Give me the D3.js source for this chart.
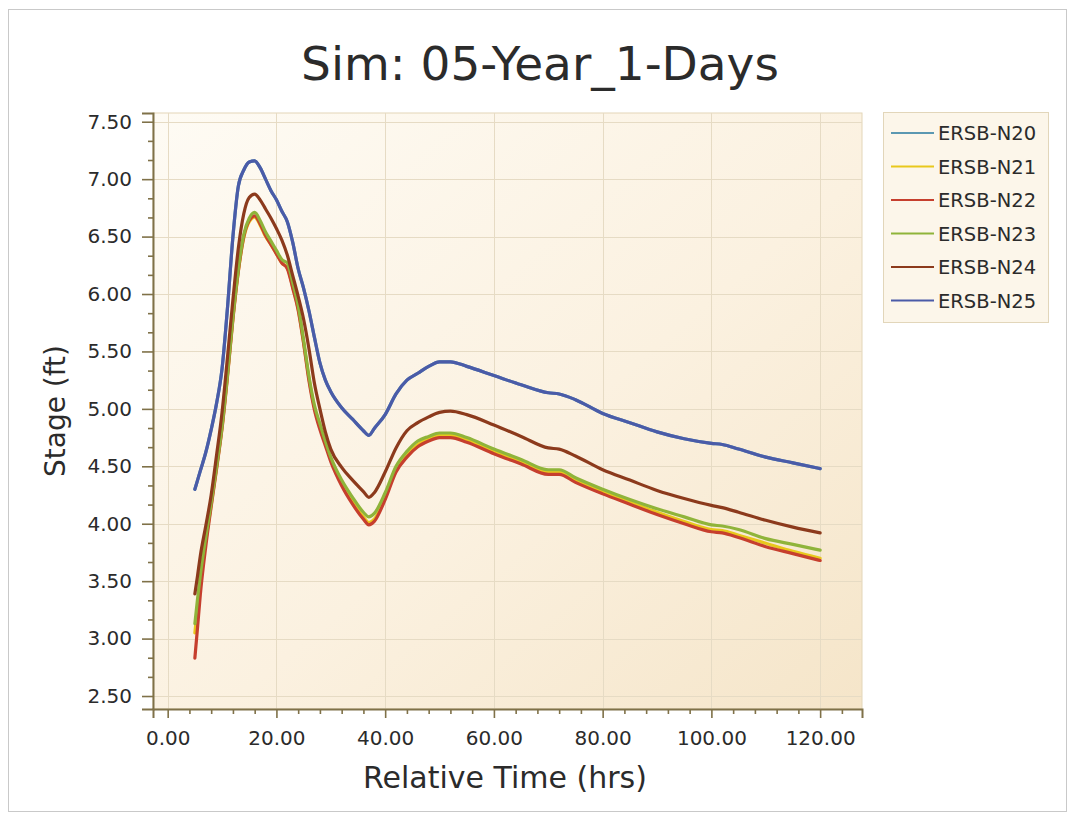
<!DOCTYPE html>
<html>
<head>
<meta charset="utf-8">
<script src="https://cdn.jsdelivr.net/npm/d3@7"></script>
<style>
  html, body { margin: 0; padding: 0; background: #ffffff; }
  svg { display: block; }
  text { font-family: "DejaVu Sans", Verdana, sans-serif; fill: #2b2b2b; }
</style>
</head>
<body>
<svg id="chart" width="1073" height="816"></svg>
<script>
// ---------------- DATA ----------------
const titleText = "Sim: 05-Year_1-Days";
const xLabel = "Relative Time (hrs)";
const yLabel = "Stage (ft)";

const hours = [5, 5.5, 6, 7, 8, 9, 10, 11, 12, 13, 14, 15, 16, 17, 18, 19, 20, 21, 22, 23, 24, 25, 26, 27, 28, 29, 30, 32, 34, 36, 37, 38, 40, 42, 44, 46, 48, 50, 52, 55, 60, 65, 70, 72, 75, 80, 85, 90, 95, 100, 102, 105, 110, 115, 120];

const seriesNames = ["ERSB-N20", "ERSB-N21", "ERSB-N22", "ERSB-N23", "ERSB-N24", "ERSB-N25"];
const seriesColors = ["#5b98b2", "#e8c81c", "#c63f2e", "#8fb43a", "#8c3a1c", "#4a5ba8"];

const n25 = [4.30, 4.38, 4.46, 4.62, 4.82, 5.05, 5.35, 5.88, 6.50, 6.94, 7.08, 7.15, 7.16, 7.10, 7.00, 6.90, 6.82, 6.72, 6.63, 6.45, 6.22, 6.05, 5.85, 5.62, 5.40, 5.25, 5.15, 5.01, 4.91, 4.81, 4.77, 4.83, 4.95, 5.13, 5.25, 5.31, 5.37, 5.41, 5.41, 5.37, 5.29, 5.21, 5.14, 5.13, 5.08, 4.96, 4.88, 4.80, 4.74, 4.70, 4.69, 4.65, 4.58, 4.53, 4.48];
const n20 = [4.30, 4.38, 4.46, 4.62, 4.82, 5.05, 5.35, 5.88, 6.50, 6.94, 7.08, 7.15, 7.16, 7.10, 7.00, 6.90, 6.82, 6.72, 6.63, 6.45, 6.22, 6.05, 5.85, 5.62, 5.40, 5.25, 5.15, 5.01, 4.91, 4.81, 4.77, 4.83, 4.95, 5.13, 5.25, 5.31, 5.37, 5.41, 5.41, 5.37, 5.29, 5.21, 5.14, 5.13, 5.08, 4.96, 4.88, 4.80, 4.74, 4.70, 4.69, 4.65, 4.58, 4.53, 4.48];
const n24 = [3.39, 3.55, 3.72, 3.98, 4.25, 4.60, 4.97, 5.45, 5.95, 6.40, 6.70, 6.84, 6.87, 6.82, 6.74, 6.66, 6.57, 6.47, 6.34, 6.16, 5.98, 5.78, 5.52, 5.22, 5.00, 4.80, 4.65, 4.49, 4.38, 4.28, 4.23, 4.27, 4.45, 4.66, 4.81, 4.88, 4.93, 4.97, 4.98, 4.95, 4.86, 4.76, 4.66, 4.65, 4.59, 4.47, 4.38, 4.29, 4.22, 4.16, 4.14, 4.10, 4.03, 3.97, 3.92];
const n23 = [3.13, 3.35, 3.55, 3.88, 4.18, 4.50, 4.85, 5.30, 5.80, 6.22, 6.52, 6.66, 6.71, 6.64, 6.54, 6.46, 6.38, 6.30, 6.27, 6.10, 5.90, 5.60, 5.28, 5.03, 4.87, 4.72, 4.58, 4.38, 4.23, 4.10, 4.06, 4.09, 4.27, 4.50, 4.63, 4.72, 4.76, 4.79, 4.79, 4.75, 4.65, 4.56, 4.47, 4.47, 4.40, 4.30, 4.21, 4.13, 4.06, 3.99, 3.98, 3.95, 3.87, 3.82, 3.77];
const n22 = [2.83, 3.10, 3.38, 3.80, 4.15, 4.48, 4.83, 5.28, 5.78, 6.20, 6.50, 6.64, 6.68, 6.61, 6.51, 6.43, 6.35, 6.27, 6.22, 6.05, 5.86, 5.57, 5.24, 4.99, 4.82, 4.68, 4.54, 4.33, 4.17, 4.04, 3.99, 4.02, 4.21, 4.45, 4.58, 4.67, 4.72, 4.75, 4.75, 4.71, 4.61, 4.52, 4.43, 4.43, 4.36, 4.26, 4.17, 4.08, 4.00, 3.93, 3.92, 3.88, 3.80, 3.74, 3.68];
const n21 = [3.05, 3.28, 3.50, 3.85, 4.16, 4.49, 4.84, 5.29, 5.79, 6.20, 6.49, 6.63, 6.67, 6.60, 6.50, 6.43, 6.35, 6.27, 6.23, 6.06, 5.87, 5.58, 5.26, 5.01, 4.84, 4.70, 4.56, 4.35, 4.19, 4.06, 4.01, 4.04, 4.23, 4.47, 4.60, 4.69, 4.74, 4.77, 4.77, 4.73, 4.63, 4.54, 4.45, 4.45, 4.38, 4.28, 4.19, 4.10, 4.02, 3.95, 3.94, 3.90, 3.83, 3.76, 3.70];
const seriesValues = [n20, n21, n22, n23, n24, n25];

const xMajorTicks = [0, 20, 40, 60, 80, 100, 120];
const xMinorTicks = [4, 8, 12, 16, 24, 28, 32, 36, 44, 48, 52, 56, 64, 68, 72, 76, 84, 88, 92, 96, 104, 108, 112, 116, 124];
const yMajorTicks = [2.5, 3.0, 3.5, 4.0, 4.5, 5.0, 5.5, 6.0, 6.5, 7.0, 7.5];

// ---------------- LAYOUT ----------------
const svg = d3.select("#chart");
const P = { left: 153, top: 113, right: 862, bottom: 709 };

const x = d3.scaleLinear().domain([-2.70, 127.7]).range([P.left, P.right]);
const y = d3.scaleLinear().domain([2.387, 7.576]).range([P.bottom, P.top]);

const yMinorTicks = [];
for (let i = 0; i < yMajorTicks.length - 1; i++) {
  const a = yMajorTicks[i], b = yMajorTicks[i + 1];
  yMinorTicks.push(a + (b - a) / 3, a + 2 * (b - a) / 3);
}

// outer frame
svg.append("rect").attr("x", 8.5).attr("y", 9.5).attr("width", 1058).attr("height", 802)
  .attr("fill", "#ffffff").attr("stroke", "#c9c9c9").attr("stroke-width", 1);

// defs: gradient
const defs = svg.append("defs");
const grad = defs.append("linearGradient").attr("id", "bg").attr("x1", "0").attr("y1", "0").attr("x2", "1").attr("y2", "1");
grad.append("stop").attr("offset", "0%").attr("stop-color", "#fefbf4");
grad.append("stop").attr("offset", "55%").attr("stop-color", "#fbf1e0");
grad.append("stop").attr("offset", "100%").attr("stop-color", "#f5e5c9");
defs.append("clipPath").attr("id", "clip").append("rect")
  .attr("x", P.left).attr("y", P.top).attr("width", P.right - P.left).attr("height", P.bottom - P.top);

// plot background
svg.append("rect").attr("x", P.left).attr("y", P.top)
  .attr("width", P.right - P.left).attr("height", P.bottom - P.top)
  .attr("fill", "url(#bg)").attr("stroke", "#e3d6b8").attr("stroke-width", 1);

// gridlines
const grid = svg.append("g");
grid.selectAll("line.gx").data(xMajorTicks).join("line")
  .attr("x1", d => Math.round(x(d)) + 0.5).attr("x2", d => Math.round(x(d)) + 0.5)
  .attr("y1", P.top).attr("y2", P.bottom)
  .attr("stroke", "#e6dbc4").attr("stroke-width", 1);
grid.selectAll("line.gy").data(yMajorTicks).join("line")
  .attr("y1", d => Math.round(y(d)) + 0.5).attr("y2", d => Math.round(y(d)) + 0.5)
  .attr("x1", P.left).attr("x2", P.right)
  .attr("stroke", "#e6dbc4").attr("stroke-width", 1);

// axes
const axisColor = "#7f7148";
const yAxisMajor = svg.append("g").attr("transform", `translate(${P.left},0)`)
  .call(d3.axisLeft(y).tickValues(yMajorTicks).tickSize(11).tickPadding(10).tickFormat(d3.format(".2f")));
const yAxisMinor = svg.append("g").attr("transform", `translate(${P.left},0)`)
  .call(d3.axisLeft(y).tickValues(yMinorTicks).tickSize(5).tickFormat(""));
const xAxisMajor = svg.append("g").attr("transform", `translate(0,${P.bottom})`)
  .call(d3.axisBottom(x).tickValues(xMajorTicks).tickSize(9).tickPadding(13).tickFormat(d3.format(".2f")));
const xAxisMinor = svg.append("g").attr("transform", `translate(0,${P.bottom})`)
  .call(d3.axisBottom(x).tickValues(xMinorTicks).tickSize(5).tickFormat(""));

[yAxisMajor, yAxisMinor, xAxisMajor, xAxisMinor].forEach(g => {
  g.select(".domain").attr("stroke", axisColor).attr("stroke-width", 2);
  g.selectAll(".tick line").attr("stroke", axisColor).attr("stroke-width", 1.6);
  g.selectAll(".tick text").attr("font-size", 20).attr("fill", "#2e2e2e")
    .style("font-family", "'DejaVu Sans', Verdana, sans-serif");
});
yAxisMinor.select(".domain").remove();
xAxisMinor.select(".domain").remove();

// lines
const line = d3.line()
  .x((d, i) => x(hours[i]))
  .y(d => y(d))
  .curve(d3.curveMonotoneX);

const lines = svg.append("g").attr("clip-path", "url(#clip)");
lines.selectAll("path").data(seriesValues).join("path")
  .attr("d", d => line(d))
  .attr("fill", "none")
  .attr("stroke", (d, i) => seriesColors[i])
  .attr("stroke-width", 3.2)
  .attr("stroke-linejoin", "round")
  .attr("stroke-linecap", "round");

// title and labels
svg.append("text").attr("x", 540).attr("y", 80).attr("text-anchor", "middle")
  .attr("font-size", 47).attr("fill", "#262626").text(titleText);
svg.append("text").attr("x", 505).attr("y", 788).attr("text-anchor", "middle")
  .attr("font-size", 30).attr("fill", "#333").text(xLabel);
svg.append("text").attr("transform", "translate(65,411) rotate(-90)").attr("text-anchor", "middle")
  .attr("font-size", 28).attr("fill", "#333").text(yLabel);

// legend
const L = { x: 883.5, y: 112.5, w: 165, h: 210 };
svg.append("rect").attr("x", L.x).attr("y", L.y).attr("width", L.w).attr("height", L.h)
  .attr("fill", "#fcf6ea").attr("stroke", "#e2d6ba").attr("stroke-width", 1);
const leg = svg.append("g");
const rows = leg.selectAll("g").data(seriesNames).join("g")
  .attr("transform", (d, i) => `translate(0,${133 + i * 33.5})`);
rows.append("line").attr("x1", 891).attr("x2", 934).attr("y1", 0).attr("y2", 0)
  .attr("stroke", (d, i) => seriesColors[i]).attr("stroke-width", 2);
rows.append("text").attr("x", 938).attr("y", 0).attr("dy", "0.36em")
  .attr("font-size", 19.5).attr("fill", "#262626").text(d => d);
</script>
</body>
</html>
